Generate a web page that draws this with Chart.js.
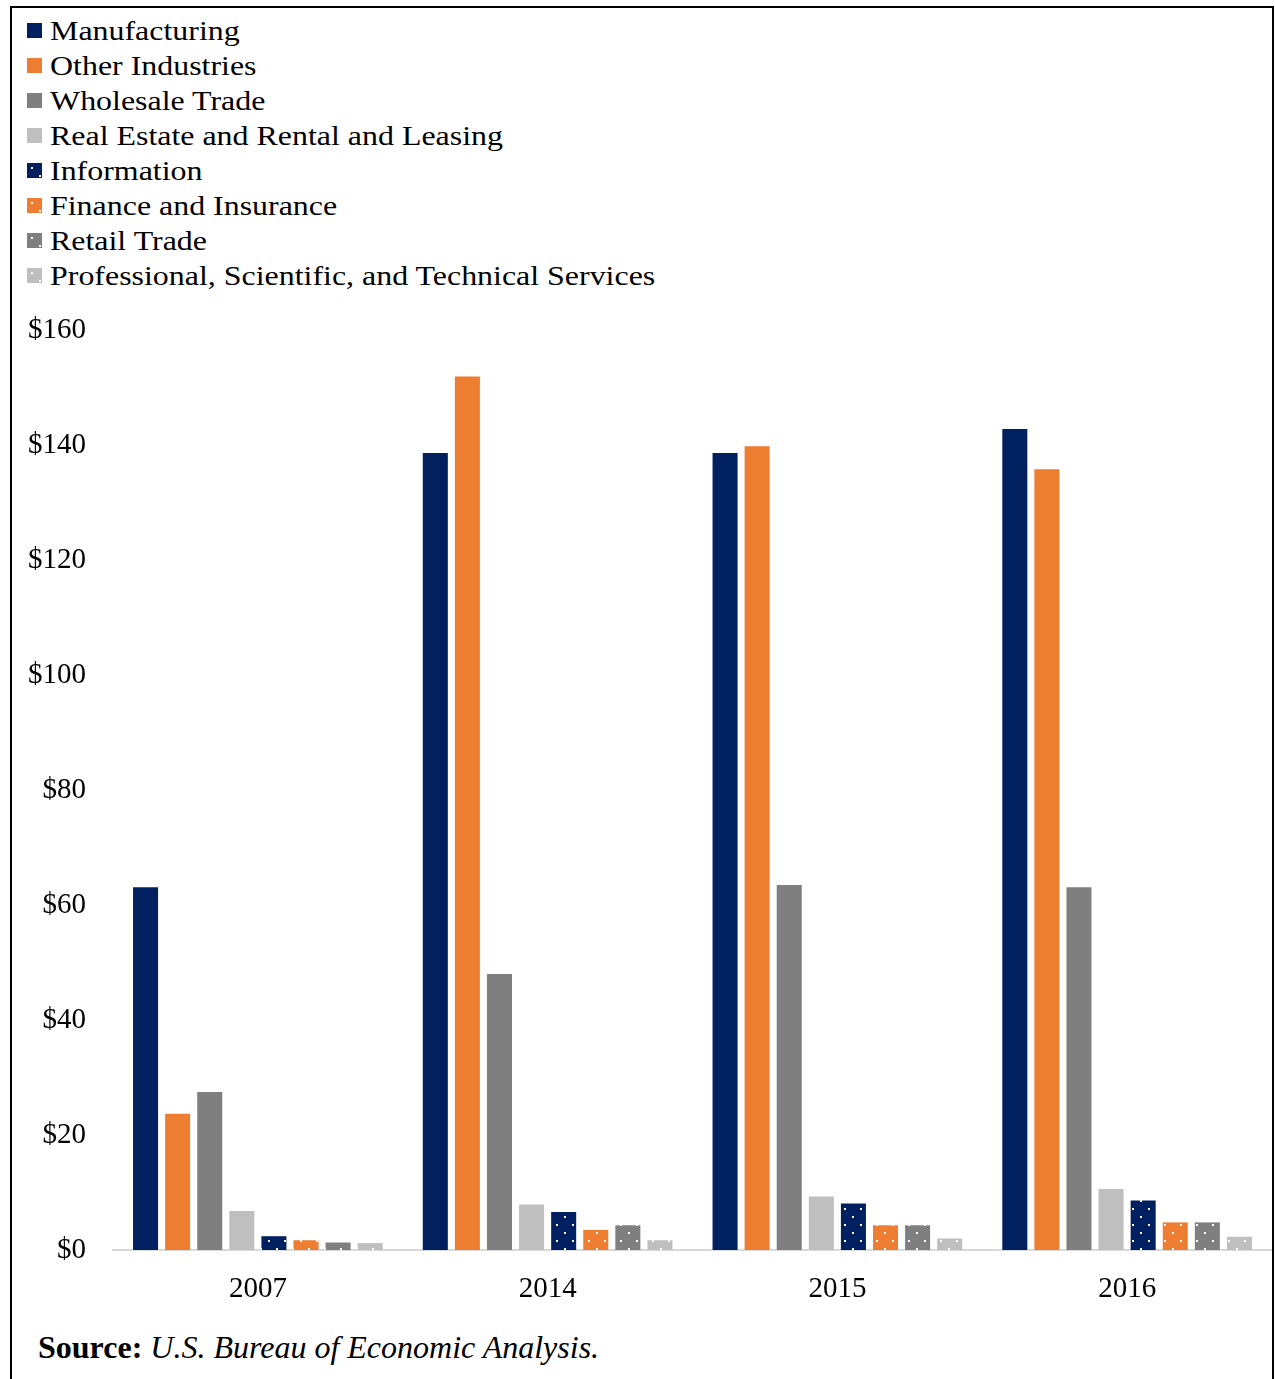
<!DOCTYPE html>
<html lang="en">
<head>
<meta charset="utf-8">
<title>Industry chart</title>
<script src="https://cdn.jsdelivr.net/npm/chart.js@4.4.1/dist/chart.umd.min.js"></script>
<style>
  body { margin: 0; background: #fff; font-family: "Liberation Serif", "Times New Roman", serif; }
  .frame { position: absolute; left: 10px; top: 6px; width: 1264px; height: 1400px; border: 2px solid #000; box-sizing: border-box; }
  #legend { position: absolute; left: 27px; top: 13px; }
  .row { display: flex; align-items: center; height: 35px; }
  .row canvas { width: 15px; height: 15px; margin-right: 8px; }
  .row span { font-size: 28px; line-height: 35px; color: #000; white-space: nowrap; display: inline-block; transform: scaleX(1.14); transform-origin: left center; }
  #chart { position: absolute; left: 0; top: 300px; }
  .source { position: absolute; left: 38px; top: 1329px; font-size: 32px; line-height: 36px; color: #000; white-space: nowrap; }
</style>
</head>
<body>
<div class="frame"></div>
<div id="legend"></div>
<canvas id="chart" width="1272" height="1020"></canvas>
<div class="source"><b>Source:</b> <i>U.S. Bureau of Economic Analysis.</i></div>

<script>
  // values in billions of dollars
  const years = ['2007', '2014', '2015', '2016'];
  const manufacturing = [63.1, 138.6, 138.6, 142.8];
  const otherIndustries = [23.7, 151.9, 139.8, 135.8];
  const wholesaleTrade = [27.5, 48.0, 63.5, 63.1];
  const realEstate = [6.8, 7.9, 9.3, 10.6];
  const information = [2.4, 6.6, 8.1, 8.6];
  const finance = [1.7, 3.5, 4.3, 4.8];
  const retailTrade = [1.3, 4.3, 4.3, 4.8];
  const professional = [1.2, 1.7, 2.0, 2.3];

  const NAVY = '#002060', ORANGE = '#ED7D31', GRAY = '#7F7F7F', LIGHT = '#BFBFBF';

  const ctx = document.getElementById('chart').getContext('2d');

  // dotted fill for the last four series
  function dots(color) {
    const c = document.createElement('canvas');
    c.width = 16; c.height = 16;
    const x = c.getContext('2d');
    x.fillStyle = color;
    x.fillRect(0, 0, 16, 16);
    x.fillStyle = '#fff';
    x.fillRect(4, 4, 2, 2);
    x.fillRect(12, 12, 2, 2);
    return c;
  }

  const series = [
    { label: 'Manufacturing', data: manufacturing, color: NAVY },
    { label: 'Other Industries', data: otherIndustries, color: ORANGE },
    { label: 'Wholesale Trade', data: wholesaleTrade, color: GRAY },
    { label: 'Real Estate and Rental and Leasing', data: realEstate, color: LIGHT },
    { label: 'Information', data: information, color: NAVY, dotted: true },
    { label: 'Finance and Insurance', data: finance, color: ORANGE, dotted: true },
    { label: 'Retail Trade', data: retailTrade, color: GRAY, dotted: true },
    { label: 'Professional, Scientific, and Technical Services', data: professional, color: LIGHT, dotted: true }
  ];

  const datasets = series.map(s => ({
    label: s.label,
    data: s.data,
    backgroundColor: s.dotted ? ctx.createPattern(dots(s.color), 'repeat') : s.color,
    borderWidth: 0,
    categoryPercentage: 0.886,
    barPercentage: 0.78
  }));

  const font = { family: '"Liberation Serif", "Times New Roman", serif', size: 29 };

  const chart = new Chart(ctx, {
    type: 'bar',
    data: { labels: years, datasets: datasets },
    options: {
      responsive: false,
      animation: false,
      devicePixelRatio: 1,
      layout: { padding: { top: 30, right: 0, bottom: 0, left: 0 } },
      plugins: { legend: { display: false }, tooltip: { enabled: false } },
      scales: {
        x: {
          grid: { display: true, drawOnChartArea: false, drawTicks: false },
          border: { display: true, color: '#D9D9D9', width: 2 },
          ticks: { font: font, color: '#000', padding: 22 },
          afterFit: s => { s.height = 70; }
        },
        y: {
          min: 0,
          max: 160,
          // ticks hidden, tickLength only pushes the labels left
          grid: { display: false, drawTicks: true, tickLength: 25 },
          border: { display: false },
          ticks: { stepSize: 20, font: font, color: '#000', padding: 2, callback: v => '$' + v },
          afterFit: s => { s.width = 113; }
        }
      }
    }
  });

  // html legend, one item per line
  const legend = document.getElementById('legend');
  chart.data.datasets.forEach((ds, i) => {
    const row = document.createElement('div');
    row.className = 'row';
    const sw = document.createElement('canvas');
    sw.width = 15; sw.height = 15;
    const sctx = sw.getContext('2d');
    sctx.fillStyle = series[i].dotted ? sctx.createPattern(dots(series[i].color), 'repeat') : series[i].color;
    sctx.fillRect(0, 0, 15, 15);
    const txt = document.createElement('span');
    txt.textContent = ds.label;
    row.appendChild(sw);
    row.appendChild(txt);
    legend.appendChild(row);
  });
</script>
</body>
</html>
